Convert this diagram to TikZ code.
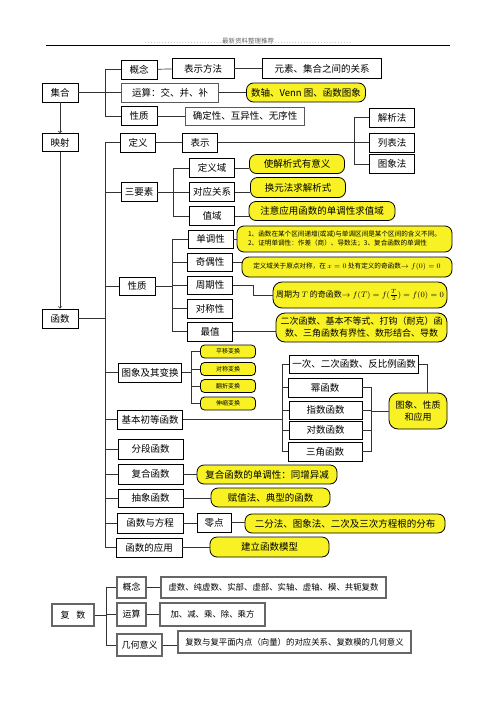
\documentclass[tikz,border=0pt]{standalone}
\usepackage{fontspec}
\setmainfont{Noto Sans CJK SC}
\definecolor{notey}{HTML}{F8F224}
\tikzset{
    box/.style={draw, line width=0.8pt, inner sep=1pt, align=center, font=\fontsize{9.5}{11}\selectfont},
    note/.style={box, fill=notey, rounded corners=7pt},
    smallnote/.style={note, rounded corners=4pt, font=\fontsize{6}{7}\selectfont},
    cbox/.style={box, draw=black!60, line width=1.2pt, font=\fontsize{9}{11}\selectfont},
    link/.style={draw=black!80, line width=0.7pt},
}
\begin{document}
\begin{tikzpicture}[x=1pt, y=-1pt]
    \useasboundingbox (0, 0) rectangle (496, 702);
    % header
    \node[font=\fontsize{6.5}{8}\selectfont, text=black!60] at (248, 41) (header) {\makebox[78pt]{\dotfill}最新资料整理推荐\makebox[78pt]{\dotfill}};
    \draw[line width=0.8pt] (46, 45) -- (450, 45);

    % sets
    \node[box, minimum width=36, minimum height=19] at (60, 92.5) (set) {集合};
    \node[box, minimum width=36, minimum height=19] at (139, 69.5) (set-concept) {概念};
    \node[box, minimum width=62, minimum height=20] at (203, 68.5) (set-notation) {表示方法};
    \node[box, minimum width=119, minimum height=20] at (322, 68.5) (set-relation) {元素、集合之间的关系};
    \node[box, draw=black!65, minimum width=97, minimum height=19] at (170, 92.5) (set-ops) {运算：交、并、补};
    \node[note, minimum width=119, minimum height=19] at (306, 92.5) (set-venn) {数轴、Venn 图、函数图象};
    \node[box, minimum width=36, minimum height=19] at (139, 116) (set-prop) {性质};
    \node[box, draw=black!65, minimum width=119, minimum height=18] at (245, 116) (set-prop-list) {确定性、互异性、无序性};

    % mapping and definition
    \node[box, minimum width=36, minimum height=18] at (60, 142.5) (map) {映射};
    \node[box, minimum width=35, minimum height=19] at (138, 142.5) (def) {定义};
    \node[box, minimum width=35, minimum height=19] at (200, 142.5) (rep) {表示};
    \node[box, minimum width=45, minimum height=19] at (392, 117.5) (analytic) {解析法};
    \node[box, minimum width=45, minimum height=19] at (392, 142.5) (table) {列表法};
    \node[box, minimum width=45, minimum height=19] at (392, 164) (graph) {图象法};

    % three elements
    \node[box, minimum width=36, minimum height=19] at (139, 192) (three) {三要素};
    \node[box, minimum width=45, minimum height=19] at (212, 168) (domain) {定义域};
    \node[box, minimum width=45, minimum height=19] at (212, 192) (corr) {对应关系};
    \node[box, minimum width=45, minimum height=19] at (212, 216) (range) {值域};
    \node[note, minimum width=95, minimum height=19] at (297, 164) (note-domain) {使解析式有意义};
    \node[note, minimum width=95, minimum height=20] at (298, 187.5) (note-corr) {换元法求解析式};
    \node[note, minimum width=146, minimum height=19] at (322, 211) (note-range) {注意应用函数的单调性求值域};

    % properties
    \node[box, minimum width=36, minimum height=18] at (137, 286) (prop) {性质};
    \node[box, minimum width=45, minimum height=18] at (210.5, 239) (mono) {单调性};
    \node[box, minimum width=45, minimum height=18] at (210, 262) (parity) {奇偶性};
    \node[box, minimum width=45, minimum height=18] at (210, 285) (period) {周期性};
    \node[box, minimum width=45, minimum height=19] at (210, 308.5) (sym) {对称性};
    \node[box, minimum width=45, minimum height=19] at (210, 331.5) (extr) {最值};
    \node[note, minimum width=215, minimum height=26, align=left, font=\fontsize{6.6}{9}\selectfont] at (344.5, 239) (note-mono) {1、函数在某个区间递增(或减)与单调区间是某个区间的含义不同。\\2、证明单调性：作差（商）、导数法；3、复合函数的单调性};
    \node[note, minimum width=210, minimum height=20, font=\fontsize{6.6}{8}\selectfont] at (347, 267) (note-parity) {定义域关于原点对称，在 $x=0$ 处有定义的奇函数$\to f(0)=0$};
    \node[note, rounded corners=9pt, minimum width=174, minimum height=26, font=\fontsize{8}{10}\selectfont] at (360, 295) (note-period) {周期为 $T$ 的奇函数$\to f(T)=f(\frac{T}{2})=f(0)=0$};
    \node[note, rounded corners=9pt, minimum width=171, minimum height=29, font=\fontsize{9}{12}\selectfont] at (361.5, 327.5) (note-extr) {二次函数、基本不等式、打钩（耐克）函\\数、三角函数有界性、数形结合、导数};

    % function
    \node[box, minimum width=36, minimum height=19] at (60, 318.5) (func) {函数};

    % graphs and transforms
    \node[box, minimum width=63, minimum height=19] at (150, 372.5) (graphs) {图象及其变换};
    \node[smallnote, minimum width=55, minimum height=13] at (228, 351.5) (shift) {平移变换};
    \node[smallnote, minimum width=55, minimum height=13] at (228, 369) (reflect) {对称变换};
    \node[smallnote, minimum width=55, minimum height=13] at (228, 386) (fold) {翻折变换};
    \node[smallnote, minimum width=55, minimum height=13] at (228, 403.5) (stretch) {伸缩变换};

    % elementary functions
    \node[box, minimum width=65, minimum height=19] at (150, 419.5) (elem) {基本初等函数};
    \node[box, minimum width=129, minimum height=18] at (354, 364) (linear) {一次、二次函数、反比例函数};
    \node[box, minimum width=74, minimum height=19] at (325, 387.5) (power) {幂函数};
    \node[box, minimum width=73, minimum height=18] at (325.5, 410) (expo) {指数函数};
    \node[box, minimum width=73, minimum height=18] at (325.5, 430) (logf) {对数函数};
    \node[box, minimum width=74, minimum height=19] at (325, 451.5) (trig) {三角函数};
    \node[note, rounded corners=9pt, minimum width=58, minimum height=36, font=\fontsize{9}{12}\selectfont] at (418, 411) (note-elem) {图象、性质\\和应用};

    % other kinds of functions
    \node[box, minimum width=65, minimum height=20] at (150.5, 449) (piece) {分段函数};
    \node[box, minimum width=65, minimum height=20] at (150.5, 474) (comp) {复合函数};
    \node[note, minimum width=140, minimum height=19] at (267, 474.5) (note-comp) {复合函数的单调性：同增异减};
    \node[box, minimum width=65, minimum height=18] at (150.5, 498) (abstr) {抽象函数};
    \node[note, minimum width=119, minimum height=19] at (270.5, 497.5) (note-abstr) {赋值法、典型的函数};
    \node[box, minimum width=66, minimum height=20] at (150, 523) (equ) {函数与方程};
    \node[box, minimum width=34, minimum height=19] at (214, 522.5) (zero) {零点};
    \node[note, minimum width=200, minimum height=19] at (345, 523.5) (note-zero) {二分法、图象法、二次及三次方程根的分布};
    \node[box, minimum width=66, minimum height=19] at (149, 547.5) (appl) {函数的应用};
    \node[note, minimum width=119, minimum height=20] at (269.5, 547) (note-appl) {建立函数模型};

    % complex numbers
    \node[cbox, minimum width=42, minimum height=22] at (73, 615) (cplx) {复\hspace{7pt}数};
    \node[cbox, minimum width=29, minimum height=21] at (131.5, 587.5) (cplx-concept) {概念};
    \node[cbox, minimum width=225, minimum height=21, font=\fontsize{8.4}{10}\selectfont] at (273.5, 587.5) (cplx-concept-list) {虚数、纯虚数、实部、虚部、实轴、虚轴、模、共轭复数};
    \node[cbox, minimum width=29, minimum height=23] at (131.5, 614.5) (cplx-ops) {运算};
    \node[cbox, minimum width=105, minimum height=23, font=\fontsize{8.4}{10}\selectfont] at (212.5, 614.5) (cplx-ops-list) {加、减、乘、除、乘方};
    \node[cbox, minimum width=45, minimum height=22] at (139.5, 645) (cplx-geo) {几何意义};
    \node[cbox, minimum width=233, minimum height=22, font=\fontsize{8.4}{10}\selectfont] at (294.5, 642) (cplx-geo-list) {复数与复平面内点（向量）的对应关系、复数模的几何意义};

    % bracket columns
    \coordinate (setbr) at (105, 0);
    \coordinate (funbr) at (105, 0);
    \coordinate (repbr) at (354, 0);
    \coordinate (threebr) at (173, 0);
    \coordinate (propbr) at (172, 0);
    \coordinate (transbr) at (191, 0);
    \coordinate (elembr) at (282, 0);
    \coordinate (elemrbr) at (371, 0);
    \coordinate (cplxbr) at (106, 0);

    % sets
    \draw[link, ->] (set) -- (map);
    \draw[link, ->] (map) -- (func);
    \draw[link] (set.east) -- (set-ops.west);
    \draw[link] (set-concept.west) -| (set-prop.west -| setbr) -- (set-prop.west);
    \path[link]
        (set-concept) edge (set-notation)
        (set-notation) edge (set-relation)
        (set-ops) edge (set-venn)
        (set-prop.east) edge (set-prop.east -| set-prop-list.west);

    % function branches
    \draw[link] (func.east) -- (func.east -| funbr);
    \draw[link] (def.west) -| (appl.west -| funbr) -- (appl.west);
    \foreach \n in {three, prop, graphs, elem, piece, comp, abstr, equ}
        \draw[link] (\n.west -| funbr) -- (\n.west);

    % definition
    \draw[link] (def) -- (rep);
    \draw[link] (rep.east) -- (table.west);
    \draw[link] (analytic.west) -| (graph.west -| repbr) -- (graph.west);

    % three elements
    \draw[link] (three.east) -- (three.east -| threebr);
    \draw[link] (domain.west) -| (range.west -| threebr) -- (range.west);
    \draw[link] (corr.west -| threebr) -- (corr.west);
    \path[link]
        (domain.east) edge (domain.east -| note-domain.west)
        (corr.east) edge (corr.east -| note-corr.west)
        (range.east) edge (range.east -| note-range.west);

    % properties
    \draw[link] (prop.east) -- (prop.east -| propbr);
    \draw[link] (mono.west) -| (extr.west -| propbr) -- (extr.west);
    \foreach \n in {parity, period, sym}
        \draw[link] (\n.west -| propbr) -- (\n.west);
    \path[link]
        (mono.east) edge (mono.east -| note-mono.west)
        (parity.east) edge (parity.east -| note-parity.west)
        (extr.east) edge (extr.east -| note-extr.west);
    \draw[link] (period.east) -- ++(20, 0) |- (note-period.west);

    % graphs and transforms
    \draw[link] (graphs.east) -- (graphs.east -| transbr);
    \draw[link] (shift.west) -| (stretch.west -| transbr) -- (stretch.west);
    \foreach \n in {reflect, fold}
        \draw[link] (\n.west -| transbr) -- (\n.west);

    % elementary functions
    \draw[link] (elem.east) -- (elem.east -| elembr);
    \draw[link] (linear.west) -| (trig.west -| elembr) -- (trig.west);
    \foreach \n in {power, expo, logf}
        \draw[link] (\n.west -| elembr) -- (\n.west);
    \draw[link] (power.east) -| (trig.east -| elemrbr) -- (trig.east);
    \foreach \n in {expo, logf}
        \draw[link] (\n.east) -- (\n.east -| elemrbr);
    \draw[link] (note-elem.west -| elemrbr) -- (note-elem.west);
    \draw[link] (linear.east) -| ([xshift=9pt]note-elem.north);

    % other kinds
    \path[link]
        (comp.east) edge (comp.east -| note-comp.west)
        (abstr.east) edge (abstr.east -| note-abstr.west)
        (equ.east) edge (equ.east -| zero.west)
        (zero.east) edge (zero.east -| note-zero.west)
        (appl.east) edge (appl.east -| note-appl.west);

    % complex numbers
    \draw[link] (cplx.east) -- (cplx.east -| cplxbr);
    \draw[link] (cplx-concept.west) -| (cplx-geo.west -| cplxbr) -- (cplx-geo.west);
    \draw[link] (cplx-ops.west -| cplxbr) -- (cplx-ops.west);
    \path[link]
        (cplx-concept.east) edge (cplx-concept.east -| cplx-concept-list.west)
        (cplx-ops.east) edge (cplx-ops.east -| cplx-ops-list.west)
        (cplx-geo.east) edge (cplx-geo.east -| cplx-geo-list.west);
\end{tikzpicture}
\end{document}
